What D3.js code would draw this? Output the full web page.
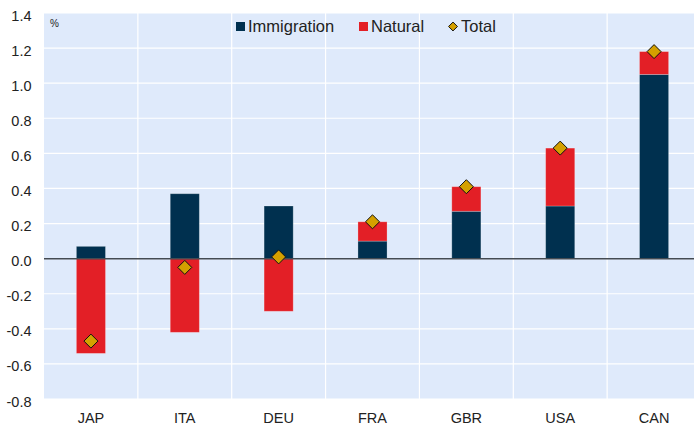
<!DOCTYPE html>
<html>

<head>
  <script src="https://d3js.org/d3.v7.min.js"></script>
  <style>
    body {
      margin: 0;
      background: #ffffff;
    }

    text {
      font-family: "Liberation Sans", Arial, sans-serif;
      fill: #222222;
    }
  </style>
</head>

<body>
  <svg id="chart"></svg>
  <script>
    const countries = ["JAP", "ITA", "DEU", "FRA", "GBR", "USA", "CAN"]
    const immigration = [0.07, 0.37, 0.30, 0.10, 0.27, 0.30, 1.05]
    const natural = [-0.54, -0.42, -0.30, 0.11, 0.14, 0.33, 0.13]
    const total = [-0.47, -0.05, 0.01, 0.21, 0.41, 0.63, 1.18]
    const yTicks = [1.4, 1.2, 1.0, 0.8, 0.6, 0.4, 0.2, 0.0, -0.2, -0.4, -0.6, -0.8]

    const svgwidth = 694
    const svgheight = 427
    const margin = { top: 13, right: -7, bottom: 28, left: 44 }

    const svg = d3.select("#chart")
      .attr("width", svgwidth)
      .attr("height", svgheight)

    const x = d3.scaleBand()
      .domain(countries)
      .range([margin.left, svgwidth - margin.right])

    const y = d3.scaleLinear()
      .domain([-0.8, 1.4])
      .range([svgheight - margin.bottom, margin.top])

    // plot background
    svg.append("rect")
      .attr("x", margin.left)
      .attr("y", margin.top)
      .attr("width", x.range()[1] - margin.left)
      .attr("height", y(-0.8) - y(1.4))
      .style("fill", "#dfeafb")

    // gridlines
    svg.selectAll(".hgrid")
      .data(yTicks)
      .enter()
      .append("line")
      .attr("x1", margin.left)
      .attr("x2", x.range()[1])
      .attr("y1", d => y(d))
      .attr("y2", d => y(d))
      .style("stroke", "#ffffff")
      .style("stroke-width", 1.2)

    svg.selectAll(".vgrid")
      .data(countries.slice(1))
      .enter()
      .append("line")
      .attr("x1", d => x(d))
      .attr("x2", d => x(d))
      .attr("y1", margin.top)
      .attr("y2", y(-0.8))
      .style("stroke", "#ffffff")
      .style("stroke-width", 1.2)

    // y labels
    svg.selectAll(".ylab")
      .data(yTicks)
      .enter()
      .append("text")
      .attr("x", 31.5)
      .attr("y", d => y(d) + 7.5)
      .attr("text-anchor", "end")
      .style("font-size", "14.5px")
      .text(d => d.toFixed(1))

    // x labels
    svg.selectAll(".xlab")
      .data(countries)
      .enter()
      .append("text")
      .attr("x", d => x(d) + x.bandwidth() / 2)
      .attr("y", 422.5)
      .attr("text-anchor", "middle")
      .style("font-size", "14.5px")
      .text(d => d)

    svg.append("text")
      .attr("x", 50)
      .attr("y", 27)
      .style("font-size", "10px")
      .text("%")

    const barWidth = x.bandwidth() * 0.31

    // stacked bars: positives stack up from 0, negatives stack down
    const rows = countries.map((c, i) => {
      const segs = []
      let pos = 0, neg = 0
      const parts = [
        { key: "imm", v: immigration[i], color: "#00304f" },
        { key: "nat", v: natural[i], color: "#e31f26" }
      ]
      parts.forEach(p => {
        if (p.v >= 0) {
          segs.push({ country: c, y0: pos, y1: pos + p.v, color: p.color })
          pos += p.v
        } else {
          segs.push({ country: c, y0: neg + p.v, y1: neg, color: p.color })
          neg += p.v
        }
      })
      return segs
    }).flat()

    svg.selectAll(".bar")
      .data(rows)
      .enter()
      .append("rect")
      .attr("x", d => x(d.country) + (x.bandwidth() - barWidth) / 2)
      .attr("y", d => y(d.y1))
      .attr("width", barWidth)
      .attr("height", d => y(d.y0) - y(d.y1))
      .style("fill", d => d.color)
      .style("stroke", "rgba(255,255,255,0.3)")
      .style("stroke-width", 0.8)

    // zero line
    svg.append("line")
      .attr("x1", margin.left)
      .attr("x2", x.range()[1])
      .attr("y1", y(0))
      .attr("y2", y(0))
      .style("stroke", "#444b52")
      .style("stroke-width", 1.5)

    const diamond = d3.symbol().type(d3.symbolDiamond2).size(125)

    svg.selectAll(".total")
      .data(countries)
      .enter()
      .append("path")
      .attr("d", diamond)
      .attr("transform", (d, i) => `translate(${x(d) + x.bandwidth() / 2},${y(total[i])})`)
      .style("fill", "#d4a000")
      .style("stroke", "#111111")
      .style("stroke-width", 1)

    // legend
    const legend = svg.append("g")

    legend.append("rect")
      .attr("x", 236).attr("y", 22).attr("width", 9).attr("height", 9)
      .style("fill", "#00304f")
    legend.append("text")
      .attr("x", 248).attr("y", 32)
      .style("font-size", "16.5px")
      .text("Immigration")

    legend.append("rect")
      .attr("x", 359).attr("y", 22).attr("width", 9).attr("height", 9)
      .style("fill", "#e31f26")
    legend.append("text")
      .attr("x", 371).attr("y", 32)
      .style("font-size", "16.5px")
      .text("Natural")

    legend.append("path")
      .attr("d", d3.symbol().type(d3.symbolDiamond2).size(50))
      .attr("transform", "translate(453,26.5)")
      .style("fill", "#d4a000")
      .style("stroke", "#111111")
      .style("stroke-width", 1)
    legend.append("text")
      .attr("x", 461).attr("y", 32)
      .style("font-size", "16.5px")
      .text("Total")
  </script>
</body>

</html>
